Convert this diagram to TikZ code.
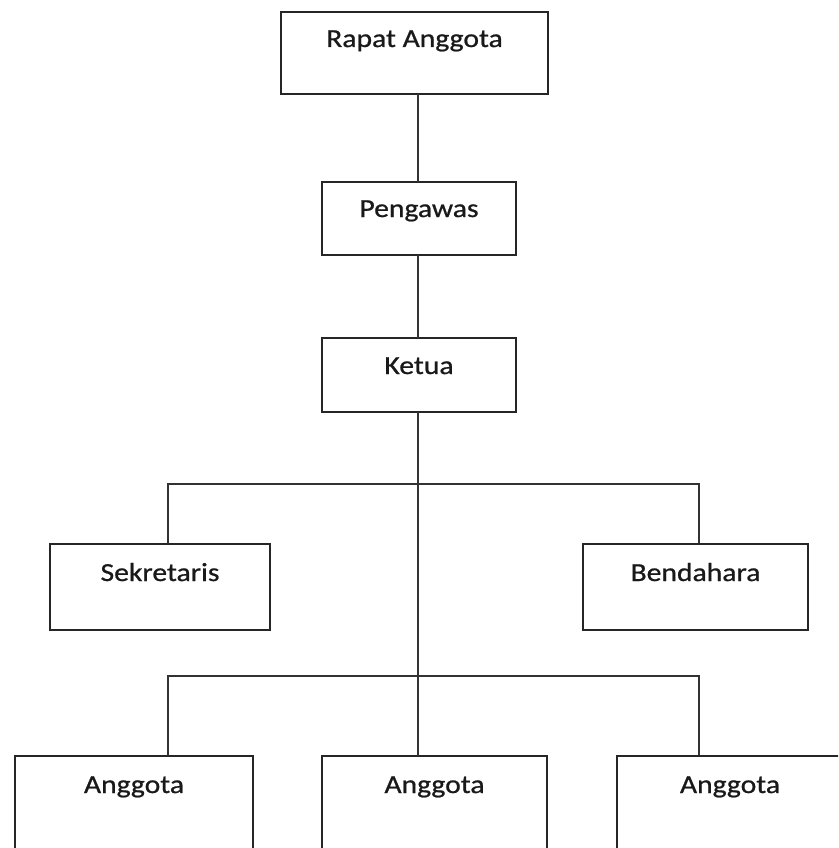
\documentclass[tikz,border=0pt]{standalone}
\usepackage{fontspec}
\setmainfont[FakeStretch=1.14,FakeBold=0.8]{Carlito}
\begin{document}
\begin{tikzpicture}[x=1pt,y=-1pt,
  box/.style={draw=black!85,line width=1.9pt,rectangle,inner sep=0pt},
  lbl/.style={anchor=base,inner sep=0pt,font=\fontsize{26}{30}\selectfont,text=black!90},
  wire/.style={draw=black!80,line width=1.9pt}]
\useasboundingbox (0,0) rectangle (838,848);
\clip (0,0) rectangle (838,848);
% boxes
\node[box,minimum width=267pt,minimum height=82pt] (rapat) at (414.5,53) {};
\node[box,minimum width=194pt,minimum height=73pt] (peng) at (419,218.5) {};
\node[box,minimum width=194pt,minimum height=74pt] (ketua) at (419,375) {};
\node[box,minimum width=220pt,minimum height=86pt] (sek) at (160,587) {};
\node[box,minimum width=225pt,minimum height=86pt] (bend) at (695.5,587) {};
\node[box,minimum width=238pt,minimum height=120pt] (a1) at (134,816) {};
\node[box,minimum width=225pt,minimum height=120pt] (a2) at (434.5,816) {};
\node[box,minimum width=240pt,minimum height=120pt] (a3) at (737,816) {};
% labels
\node[lbl] (trapat) at (414.5,47) {Rapat Anggota};
\node[lbl] (tpeng) at (419,217) {Pengawas};
\node[lbl] (tketua) at (419,374) {Ketua};
\node[lbl] (tsek) at (160,581) {Sekretaris};
\node[lbl] (tbend) at (695.5,581) {Bendahara};
\node[lbl] (ta1) at (134,793) {Anggota};
\node[lbl] (ta2) at (434.5,793) {Anggota};
\node[lbl] (ta3) at (730,793) {Anggota};
% junctions
\coordinate (t1) at (418,94);
\coordinate (t2) at (418,182);
\coordinate (t3) at (418,255);
\coordinate (t4) at (418,338);
\coordinate (t5) at (418,412);
\coordinate (t6) at (418,756);
\coordinate (j1l) at (168,484);
\coordinate (j1r) at (699,484);
\coordinate (j2l) at (168,676);
\coordinate (j2r) at (699,676);
% connectors
\draw[wire] (t1) -- (t2);
\draw[wire] (t3) -- (t4);
\draw[wire] (t5) -- (t6);
\draw[wire] (sek.north -| j1l) -- (j1l) -- (j1r) -- (bend.north -| j1r);
\draw[wire] (a1.north -| j2l) -- (j2l) -- (j2r) -- (a3.north -| j2r);
\end{tikzpicture}
\end{document}
